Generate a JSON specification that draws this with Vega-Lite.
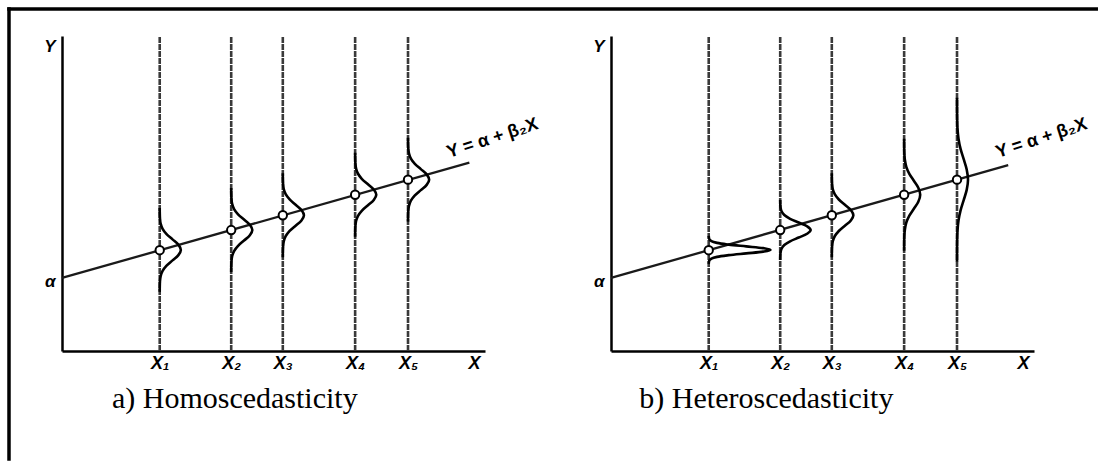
{
 "$schema": "https://vega.github.io/schema/vega-lite/v6.json",
 "background": "white",
 "padding": {"left": 6, "top": 6, "right": 0, "bottom": 0},
 "bounds": "flush",
 "spacing": 126,
 "config": {"view": {"stroke": null}},
 "datasets": {
  "border": [
   {"x": -1.253, "y": 10.857, "x2": 24.45, "y2": 10.857},
   {"x": -1.253, "y": 10.857, "x2": -1.253, "y2": -3.43}
  ],
  "vlines": [
   {"x": 2.31, "y": 0, "y2": 10},
   {"x": 4.0, "y": 0, "y2": 10},
   {"x": 5.22, "y": 0, "y2": 10},
   {"x": 6.93, "y": 0, "y2": 10},
   {"x": 8.18, "y": 0, "y2": 10}
  ],
  "centers": [
   {"x": 2.31, "y": 3.2},
   {"x": 4.0, "y": 3.84},
   {"x": 5.22, "y": 4.31},
   {"x": 6.93, "y": 4.96},
   {"x": 8.18, "y": 5.44}
  ],
  "regA": [{"x": 0, "y": 2.32}, {"x": 9.63, "y": 5.98}],
  "regB": [{"x": 0, "y": 2.32}, {"x": 9.39, "y": 5.90}],
  "eq": [{"t": "Y = α + β₂X", "x": 9.15, "y": 6.13}],
  "capA": [{"t": "a) Homoscedasticity", "x": 1.18, "y": -1.81}],
  "capB": [{"t": "b) Heteroscedasticity", "x": 0.67, "y": -1.81}],
  "curvesA": [
   {"c": "X1", "k": -4, "x": 2.31, "y": 1.877}, {"c": "X1", "k": -3, "x": 2.316, "y": 2.21}, {"c": "X1", "k": -2.5, "x": 2.332, "y": 2.377}, {"c": "X1", "k": -2, "x": 2.378, "y": 2.543}, {"c": "X1", "k": -1.5, "x": 2.472, "y": 2.71}, {"c": "X1", "k": -1, "x": 2.613, "y": 2.877}, {"c": "X1", "k": -0.5, "x": 2.751, "y": 3.043}, {"c": "X1", "k": 0, "x": 2.81, "y": 3.21}, {"c": "X1", "k": 0.5, "x": 2.751, "y": 3.377}, {"c": "X1", "k": 1, "x": 2.613, "y": 3.543}, {"c": "X1", "k": 1.5, "x": 2.472, "y": 3.71}, {"c": "X1", "k": 2, "x": 2.378, "y": 3.877}, {"c": "X1", "k": 2.5, "x": 2.332, "y": 4.043}, {"c": "X1", "k": 3, "x": 2.316, "y": 4.21}, {"c": "X1", "k": 4, "x": 2.31, "y": 4.543},
   {"c": "X2", "k": -4, "x": 4.0, "y": 2.507}, {"c": "X2", "k": -3, "x": 4.006, "y": 2.84}, {"c": "X2", "k": -2.5, "x": 4.022, "y": 3.007}, {"c": "X2", "k": -2, "x": 4.068, "y": 3.173}, {"c": "X2", "k": -1.5, "x": 4.162, "y": 3.34}, {"c": "X2", "k": -1, "x": 4.303, "y": 3.507}, {"c": "X2", "k": -0.5, "x": 4.441, "y": 3.673}, {"c": "X2", "k": 0, "x": 4.5, "y": 3.84}, {"c": "X2", "k": 0.5, "x": 4.441, "y": 4.007}, {"c": "X2", "k": 1, "x": 4.303, "y": 4.173}, {"c": "X2", "k": 1.5, "x": 4.162, "y": 4.34}, {"c": "X2", "k": 2, "x": 4.068, "y": 4.507}, {"c": "X2", "k": 2.5, "x": 4.022, "y": 4.673}, {"c": "X2", "k": 3, "x": 4.006, "y": 4.84}, {"c": "X2", "k": 4, "x": 4.0, "y": 5.173},
   {"c": "X3", "k": -4, "x": 5.22, "y": 2.977}, {"c": "X3", "k": -3, "x": 5.226, "y": 3.31}, {"c": "X3", "k": -2.5, "x": 5.242, "y": 3.477}, {"c": "X3", "k": -2, "x": 5.288, "y": 3.643}, {"c": "X3", "k": -1.5, "x": 5.382, "y": 3.81}, {"c": "X3", "k": -1, "x": 5.523, "y": 3.977}, {"c": "X3", "k": -0.5, "x": 5.661, "y": 4.143}, {"c": "X3", "k": 0, "x": 5.72, "y": 4.31}, {"c": "X3", "k": 0.5, "x": 5.661, "y": 4.477}, {"c": "X3", "k": 1, "x": 5.523, "y": 4.643}, {"c": "X3", "k": 1.5, "x": 5.382, "y": 4.81}, {"c": "X3", "k": 2, "x": 5.288, "y": 4.977}, {"c": "X3", "k": 2.5, "x": 5.242, "y": 5.143}, {"c": "X3", "k": 3, "x": 5.226, "y": 5.31}, {"c": "X3", "k": 4, "x": 5.22, "y": 5.643},
   {"c": "X4", "k": -4, "x": 6.93, "y": 3.627}, {"c": "X4", "k": -3, "x": 6.936, "y": 3.96}, {"c": "X4", "k": -2.5, "x": 6.952, "y": 4.127}, {"c": "X4", "k": -2, "x": 6.998, "y": 4.293}, {"c": "X4", "k": -1.5, "x": 7.092, "y": 4.46}, {"c": "X4", "k": -1, "x": 7.233, "y": 4.627}, {"c": "X4", "k": -0.5, "x": 7.371, "y": 4.793}, {"c": "X4", "k": 0, "x": 7.43, "y": 4.96}, {"c": "X4", "k": 0.5, "x": 7.371, "y": 5.127}, {"c": "X4", "k": 1, "x": 7.233, "y": 5.293}, {"c": "X4", "k": 1.5, "x": 7.092, "y": 5.46}, {"c": "X4", "k": 2, "x": 6.998, "y": 5.627}, {"c": "X4", "k": 2.5, "x": 6.952, "y": 5.793}, {"c": "X4", "k": 3, "x": 6.936, "y": 5.96}, {"c": "X4", "k": 4, "x": 6.93, "y": 6.293},
   {"c": "X5", "k": -4, "x": 8.18, "y": 4.107}, {"c": "X5", "k": -3, "x": 8.186, "y": 4.44}, {"c": "X5", "k": -2.5, "x": 8.202, "y": 4.607}, {"c": "X5", "k": -2, "x": 8.248, "y": 4.773}, {"c": "X5", "k": -1.5, "x": 8.342, "y": 4.94}, {"c": "X5", "k": -1, "x": 8.483, "y": 5.107}, {"c": "X5", "k": -0.5, "x": 8.621, "y": 5.273}, {"c": "X5", "k": 0, "x": 8.68, "y": 5.44}, {"c": "X5", "k": 0.5, "x": 8.621, "y": 5.607}, {"c": "X5", "k": 1, "x": 8.483, "y": 5.773}, {"c": "X5", "k": 1.5, "x": 8.342, "y": 5.94}, {"c": "X5", "k": 2, "x": 8.248, "y": 6.107}, {"c": "X5", "k": 2.5, "x": 8.202, "y": 6.273}, {"c": "X5", "k": 3, "x": 8.186, "y": 6.44}, {"c": "X5", "k": 4, "x": 8.18, "y": 6.773}
  ],
  "curvesB": [
   {"c": "X1", "k": -4, "x": 2.31, "y": 2.766}, {"c": "X1", "k": -3, "x": 2.326, "y": 2.877}, {"c": "X1", "k": -2.5, "x": 2.374, "y": 2.932}, {"c": "X1", "k": -2, "x": 2.508, "y": 2.988}, {"c": "X1", "k": -1.5, "x": 2.784, "y": 3.043}, {"c": "X1", "k": -1, "x": 3.196, "y": 3.099}, {"c": "X1", "k": -0.5, "x": 3.598, "y": 3.154}, {"c": "X1", "k": 0, "x": 3.77, "y": 3.21}, {"c": "X1", "k": 0.5, "x": 3.598, "y": 3.266}, {"c": "X1", "k": 1, "x": 3.196, "y": 3.321}, {"c": "X1", "k": 1.5, "x": 2.784, "y": 3.377}, {"c": "X1", "k": 2, "x": 2.508, "y": 3.432}, {"c": "X1", "k": 2.5, "x": 2.374, "y": 3.488}, {"c": "X1", "k": 3, "x": 2.326, "y": 3.543}, {"c": "X1", "k": 4, "x": 2.31, "y": 3.654},
   {"c": "X2", "k": -4, "x": 4.0, "y": 2.888}, {"c": "X2", "k": -3, "x": 4.008, "y": 3.126}, {"c": "X2", "k": -2.5, "x": 4.032, "y": 3.245}, {"c": "X2", "k": -2, "x": 4.097, "y": 3.364}, {"c": "X2", "k": -1.5, "x": 4.234, "y": 3.483}, {"c": "X2", "k": -1, "x": 4.437, "y": 3.602}, {"c": "X2", "k": -0.5, "x": 4.635, "y": 3.721}, {"c": "X2", "k": 0, "x": 4.72, "y": 3.84}, {"c": "X2", "k": 0.5, "x": 4.635, "y": 3.959}, {"c": "X2", "k": 1, "x": 4.437, "y": 4.078}, {"c": "X2", "k": 1.5, "x": 4.234, "y": 4.197}, {"c": "X2", "k": 2, "x": 4.097, "y": 4.316}, {"c": "X2", "k": 2.5, "x": 4.032, "y": 4.435}, {"c": "X2", "k": 3, "x": 4.008, "y": 4.554}, {"c": "X2", "k": 4, "x": 4.0, "y": 4.792},
   {"c": "X3", "k": -4, "x": 5.22, "y": 2.977}, {"c": "X3", "k": -3, "x": 5.226, "y": 3.31}, {"c": "X3", "k": -2.5, "x": 5.242, "y": 3.477}, {"c": "X3", "k": -2, "x": 5.289, "y": 3.643}, {"c": "X3", "k": -1.5, "x": 5.386, "y": 3.81}, {"c": "X3", "k": -1, "x": 5.529, "y": 3.977}, {"c": "X3", "k": -0.5, "x": 5.67, "y": 4.143}, {"c": "X3", "k": 0, "x": 5.73, "y": 4.31}, {"c": "X3", "k": 0.5, "x": 5.67, "y": 4.477}, {"c": "X3", "k": 1, "x": 5.529, "y": 4.643}, {"c": "X3", "k": 1.5, "x": 5.386, "y": 4.81}, {"c": "X3", "k": 2, "x": 5.289, "y": 4.977}, {"c": "X3", "k": 2.5, "x": 5.242, "y": 5.143}, {"c": "X3", "k": 3, "x": 5.226, "y": 5.31}, {"c": "X3", "k": 4, "x": 5.22, "y": 5.643},
   {"c": "X4", "k": -4, "x": 6.93, "y": 3.184}, {"c": "X4", "k": -3, "x": 6.934, "y": 3.628}, {"c": "X4", "k": -2.5, "x": 6.947, "y": 3.85}, {"c": "X4", "k": -2, "x": 6.981, "y": 4.072}, {"c": "X4", "k": -1.5, "x": 7.053, "y": 4.294}, {"c": "X4", "k": -1, "x": 7.16, "y": 4.516}, {"c": "X4", "k": -0.5, "x": 7.265, "y": 4.738}, {"c": "X4", "k": 0, "x": 7.31, "y": 4.96}, {"c": "X4", "k": 0.5, "x": 7.265, "y": 5.182}, {"c": "X4", "k": 1, "x": 7.16, "y": 5.404}, {"c": "X4", "k": 1.5, "x": 7.053, "y": 5.626}, {"c": "X4", "k": 2, "x": 6.981, "y": 5.848}, {"c": "X4", "k": 2.5, "x": 6.947, "y": 6.07}, {"c": "X4", "k": 3, "x": 6.934, "y": 6.292}, {"c": "X4", "k": 4, "x": 6.93, "y": 6.736},
   {"c": "X5", "k": -4, "x": 8.18, "y": 2.84}, {"c": "X5", "k": -3, "x": 8.183, "y": 3.49}, {"c": "X5", "k": -2.5, "x": 8.191, "y": 3.815}, {"c": "X5", "k": -2, "x": 8.215, "y": 4.14}, {"c": "X5", "k": -1.5, "x": 8.264, "y": 4.465}, {"c": "X5", "k": -1, "x": 8.338, "y": 4.79}, {"c": "X5", "k": -0.5, "x": 8.409, "y": 5.115}, {"c": "X5", "k": 0, "x": 8.44, "y": 5.44}, {"c": "X5", "k": 0.5, "x": 8.409, "y": 5.765}, {"c": "X5", "k": 1, "x": 8.338, "y": 6.09}, {"c": "X5", "k": 1.5, "x": 8.264, "y": 6.415}, {"c": "X5", "k": 2, "x": 8.215, "y": 6.74}, {"c": "X5", "k": 2.5, "x": 8.191, "y": 7.065}, {"c": "X5", "k": 3, "x": 8.183, "y": 7.39}, {"c": "X5", "k": 4, "x": 8.18, "y": 8.04}
  ]
 },
 "hconcat": [
  {
   "width": 423, "height": 315,
   "encoding": {
    "x": {"field": "x", "type": "quantitative", "scale": {"domain": [0, 10], "nice": false, "zero": false},
     "axis": {"title": null, "values": [2.31, 4.0, 5.22, 6.93, 8.18, 9.74], "labelExpr": "datum.value > 9 ? 'X' : datum.value < 3 ? 'X₁' : datum.value < 4.5 ? 'X₂' : datum.value < 6 ? 'X₃' : datum.value < 7.5 ? 'X₄' : 'X₅'", "ticks": false, "grid": false, "domainColor": "black", "domainWidth": 2.5, "labelFont": "Liberation Sans", "labelFontWeight": "bold", "labelFontStyle": "italic", "labelFontSize": 18, "labelColor": "black", "labelPadding": 3, "labelFlush": false, "labelOverlap": false}},
    "y": {"field": "y", "type": "quantitative", "scale": {"domain": [0, 10], "nice": false, "zero": false},
     "axis": {"title": null, "values": [2.2, 9.68], "labelExpr": "datum.value > 5 ? 'Y' : 'α'", "ticks": false, "grid": false, "domainColor": "black", "domainWidth": 2.5, "labelFont": "Liberation Sans", "labelFontWeight": "bold", "labelFontStyle": "italic", "labelFontSize": 17, "labelColor": "black", "labelPadding": 7, "labelFlush": false, "labelOverlap": false}}
   },
   "layer": [
    {"data": {"name": "border"}, "mark": {"type": "rule", "color": "black", "strokeWidth": 3.5, "strokeCap": "square"}, "encoding": {"x2": {"field": "x2"}, "y2": {"field": "y2"}}},
    {"data": {"name": "vlines"}, "mark": {"type": "rule", "color": "#3a3a3a", "strokeWidth": 2.6, "strokeDash": [6, 1]}, "encoding": {"y2": {"field": "y2"}}},
    {"data": {"name": "regA"}, "mark": {"type": "line", "color": "#1a1a1a", "strokeWidth": 2.3}, "encoding": {}},
    {"data": {"name": "curvesA"}, "mark": {"type": "line", "interpolate": "catmull-rom", "color": "black", "strokeWidth": 2.6}, "encoding": {"detail": {"field": "c"}, "order": {"field": "k", "type": "quantitative"}}},
    {"data": {"name": "centers"}, "mark": {"type": "circle", "fill": "white", "stroke": "black", "strokeWidth": 2, "size": 70, "opacity": 1}},
    {"data": {"name": "eq"}, "mark": {"type": "text", "angle": -18, "align": "left", "baseline": "alphabetic", "font": "Liberation Sans", "fontWeight": "bold", "fontSize": 18, "color": "black"}, "encoding": {"text": {"field": "t"}}},
    {"data": {"name": "capA"}, "mark": {"type": "text", "align": "left", "baseline": "alphabetic", "font": "Liberation Serif", "fontSize": 30, "color": "black"}, "encoding": {"text": {"field": "t"}}}
   ]
  },
  {
   "width": 423, "height": 315,
   "encoding": {
    "x": {"field": "x", "type": "quantitative", "scale": {"domain": [0, 10], "nice": false, "zero": false},
     "axis": {"title": null, "values": [2.31, 4.0, 5.22, 6.93, 8.18, 9.74], "labelExpr": "datum.value > 9 ? 'X' : datum.value < 3 ? 'X₁' : datum.value < 4.5 ? 'X₂' : datum.value < 6 ? 'X₃' : datum.value < 7.5 ? 'X₄' : 'X₅'", "ticks": false, "grid": false, "domainColor": "black", "domainWidth": 2.5, "labelFont": "Liberation Sans", "labelFontWeight": "bold", "labelFontStyle": "italic", "labelFontSize": 18, "labelColor": "black", "labelPadding": 3, "labelFlush": false, "labelOverlap": false}},
    "y": {"field": "y", "type": "quantitative", "scale": {"domain": [0, 10], "nice": false, "zero": false},
     "axis": {"title": null, "values": [2.2, 9.68], "labelExpr": "datum.value > 5 ? 'Y' : 'α'", "ticks": false, "grid": false, "domainColor": "black", "domainWidth": 2.5, "labelFont": "Liberation Sans", "labelFontWeight": "bold", "labelFontStyle": "italic", "labelFontSize": 17, "labelColor": "black", "labelPadding": 7, "labelFlush": false, "labelOverlap": false}}
   },
   "layer": [
    {"data": {"name": "vlines"}, "mark": {"type": "rule", "color": "#3a3a3a", "strokeWidth": 2.6, "strokeDash": [6, 1]}, "encoding": {"y2": {"field": "y2"}}},
    {"data": {"name": "regB"}, "mark": {"type": "line", "color": "#1a1a1a", "strokeWidth": 2.3}, "encoding": {}},
    {"data": {"name": "curvesB"}, "mark": {"type": "line", "interpolate": "catmull-rom", "color": "black", "strokeWidth": 2.6}, "encoding": {"detail": {"field": "c"}, "order": {"field": "k", "type": "quantitative"}}},
    {"data": {"name": "centers"}, "mark": {"type": "circle", "fill": "white", "stroke": "black", "strokeWidth": 2, "size": 70, "opacity": 1}},
    {"data": {"name": "eq"}, "mark": {"type": "text", "angle": -18, "align": "left", "baseline": "alphabetic", "font": "Liberation Sans", "fontWeight": "bold", "fontSize": 18, "color": "black"}, "encoding": {"text": {"field": "t"}}},
    {"data": {"name": "capB"}, "mark": {"type": "text", "align": "left", "baseline": "alphabetic", "font": "Liberation Serif", "fontSize": 30, "color": "black"}, "encoding": {"text": {"field": "t"}}}
   ]
  }
 ]
}
